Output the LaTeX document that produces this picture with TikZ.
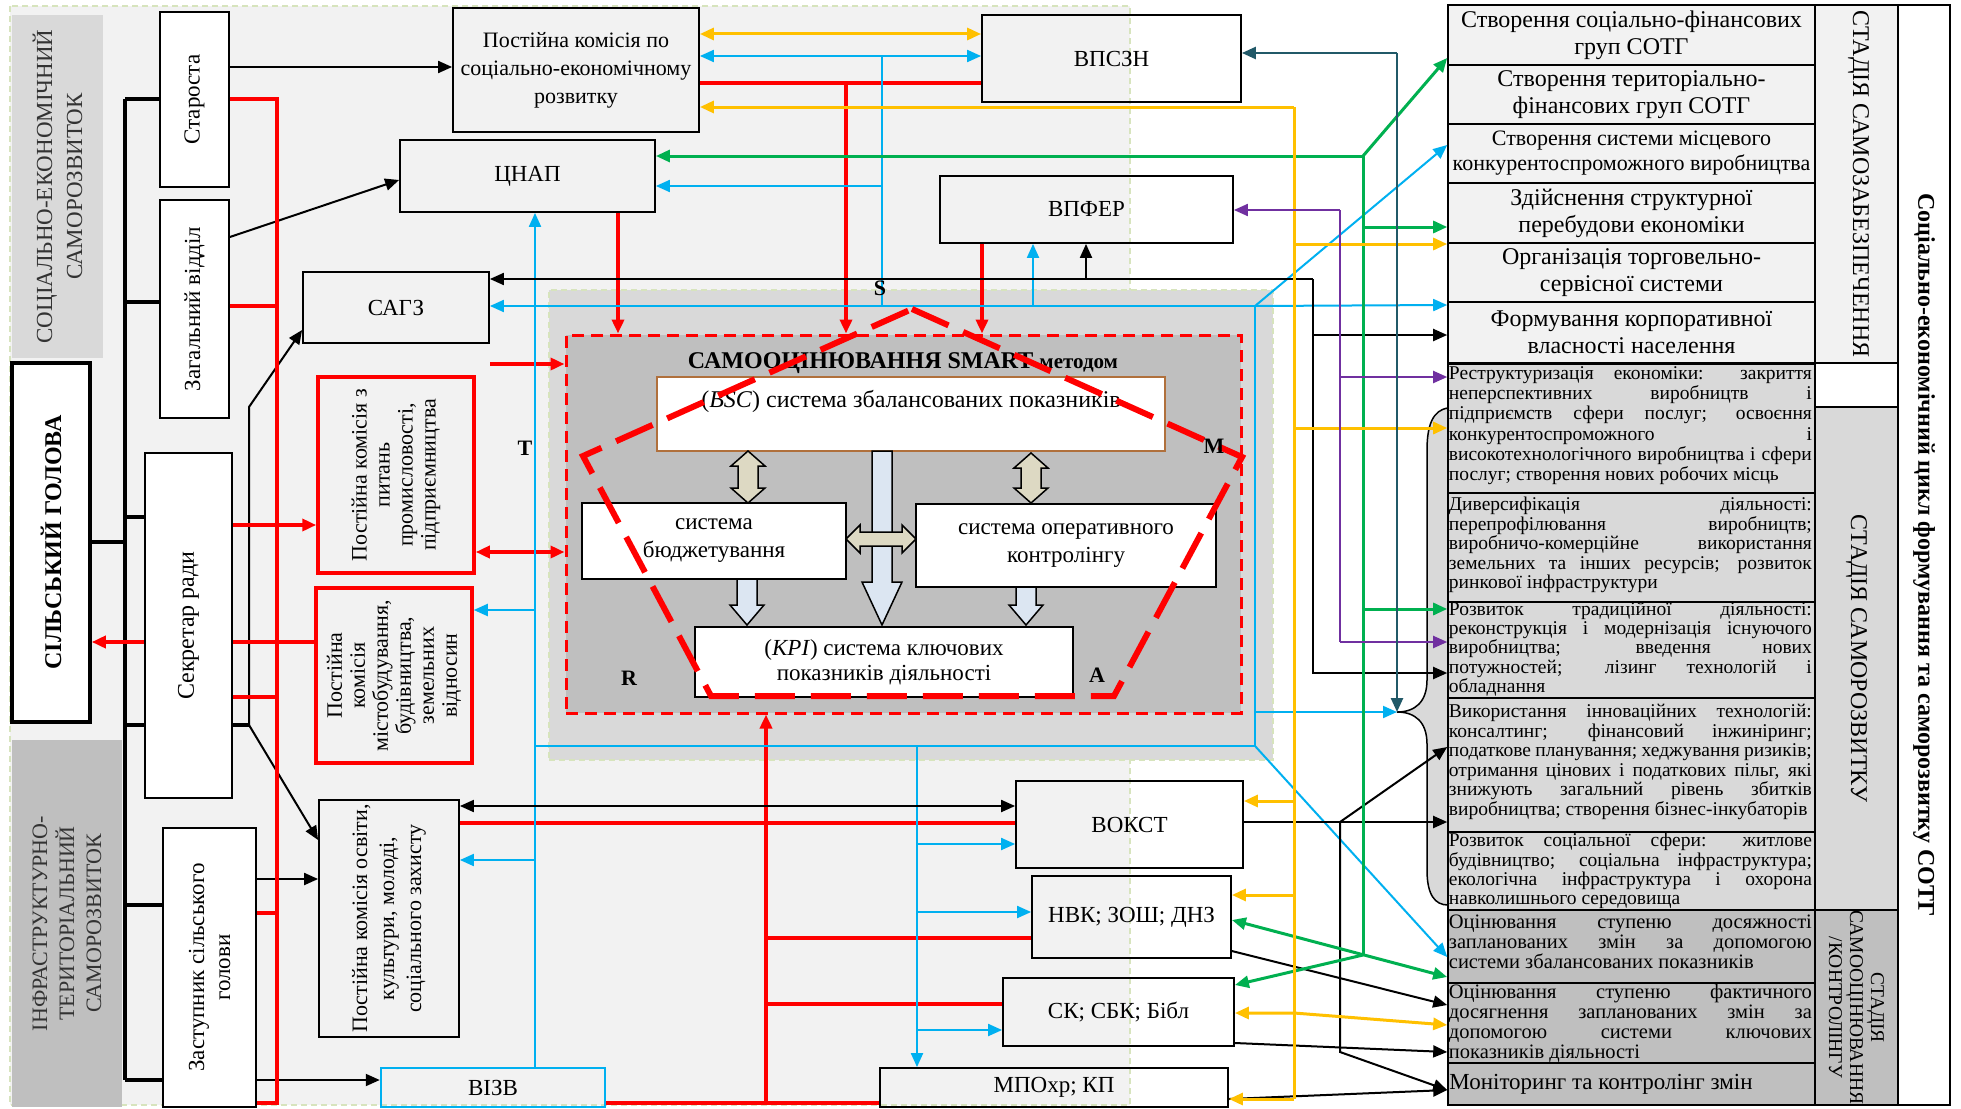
\documentclass[tikz,border=0pt]{standalone}
\usepackage{fontspec}
\setmainfont{Liberation Serif}
\usetikzlibrary{arrows.meta}
\definecolor{lgray}{HTML}{F2F2F2}
\definecolor{mgray}{HTML}{D9D9D9}
\definecolor{dgray}{HTML}{BFBFBF}
\definecolor{cred}{HTML}{FF0000}
\definecolor{cblue}{HTML}{00B0F0}
\definecolor{cgreen}{HTML}{00B050}
\definecolor{corange}{HTML}{FFC000}
\definecolor{cpurple}{HTML}{7030A0}
\definecolor{cteal}{HTML}{215968}
\definecolor{cbeige}{HTML}{DDD9C3}
\definecolor{clblue}{HTML}{DCE6F2}
\definecolor{dashgreen}{HTML}{D7E4BD}
\definecolor{cbrown}{HTML}{B0703C}
\definecolor{labtxt}{HTML}{333333}
\newcommand{\mybox}[7][]{%
  \pgfmathsetmacro{\myboxcx}{(#3+#5)/2}%
  \pgfmathsetmacro{\myboxcy}{(#4+#6)/2}%
  \pgfmathsetmacro{\myboxw}{#5-#3}%
  \pgfmathsetmacro{\myboxh}{#6-#4}%
  \node[minimum width=\myboxw pt, minimum height=\myboxh pt, #1] (#2) at (\myboxcx,\myboxcy) {#7};}
\newcommand{\jl}[1]{\makebox[363pt][s]{#1}}
\newcommand{\fsL}{\fontsize{23}{27}\selectfont}
\newcommand{\fsK}{\fontsize{22}{23}\selectfont}
\newcommand{\fsR}{\fontsize{24}{27}\selectfont}
\newcommand{\fsE}{\fontsize{20.5}{20}\selectfont}
\tikzset{
  bx/.style={draw=black, line width=1.8pt, inner sep=0pt},
  wbx/.style={bx, fill=white},
  rbx/.style={draw=cred, line width=3.5pt, inner sep=0pt},
  rowbox/.style={draw=black, line width=1.6pt, inner sep=0pt},
  myarr/.style={-{Triangle[length=14pt,width=12pt]}},
  mydarr/.style={{Triangle[length=14pt,width=12pt]}-{Triangle[length=14pt,width=12pt]}},
  blk/.style={black, line width=2pt},
  blkbus/.style={black, line width=3.5pt},
  redl/.style={cred, line width=3.5pt},
  bll/.style={cblue, line width=2pt},
  grl/.style={cgreen, line width=3pt},
  orl/.style={corange, line width=3pt},
  pul/.style={cpurple, line width=2pt},
  tel/.style={cteal, line width=2.5pt},
  barrow/.style={draw=black, line width=1.5pt},
  jtext/.style={align=left, inner sep=0pt, anchor=north west},
  etext/.style={font=\fsE, align=left, inner sep=0pt, anchor=north west},
  lettr/.style={font=\bfseries\fontsize{22}{22}\selectfont, inner sep=0pt},
}
\begin{document}
\begin{tikzpicture}[x=1pt,y=-1pt]
\useasboundingbox (0,0) rectangle (1961,1108);
\fill[white] (0,0) rectangle (1961,1108);
% backgrounds
\fill[lgray] (10,6) rectangle (1130,1105);
\draw[dashgreen, line width=1.5pt, dash pattern=on 6pt off 4pt] (10,6) rectangle (1130,1105);
\mybox[fill=mgray, draw=dashgreen, line width=1.5pt, dash pattern=on 6pt off 4pt]{smartbg}{549}{290}{1273}{760}{}
\mybox[fill=dgray, draw=cred, line width=3pt, dash pattern=on 12pt off 7pt]{smartred}{566}{335}{1241}{713}{}

% left labels
\mybox[fill=mgray]{LabSE}{12}{15}{103}{358}{}
\node[rotate=90, align=center, text=labtxt, font=\fontsize{23}{30}\selectfont] at (LabSE.center) {СОЦІАЛЬНО-ЕКОНОМІЧНИЙ\\САМОРОЗВИТОК};
\mybox[fill=dgray]{LabIT}{12}{740}{122}{1107}{}
\node[rotate=90, align=center, text=labtxt, font=\fontsize{22}{27}\selectfont] at (LabIT.center) {ІНФРАСТРУКТУРНО-\\ТЕРИТОРІАЛЬНИЙ\\САМОРОЗВИТОК};
\mybox[wbx, line width=3.5pt]{Golova}{12}{363}{90}{722}{}
\node[rotate=90, font=\bfseries\fontsize{24}{27}\selectfont] at (Golova.center) {СІЛЬСЬКИЙ ГОЛОВА};

% left boxes
\mybox[wbx]{Star}{160}{12}{229}{187}{}
\node[rotate=90, font=\fsL] at (Star.center) {Староста};
\mybox[wbx]{Zag}{160}{200}{229}{418}{}
\node[rotate=90, font=\fsL] at (Zag.center) {Загальний відділ};
\mybox[wbx]{Sekr}{145}{453}{232}{798}{}
\node[rotate=90, font=\fontsize{24}{27}\selectfont] at (Sekr.center) {Секретар ради};
\mybox[wbx]{Zast}{163}{828}{256}{1107}{}
\node[rotate=90, align=center, font=\fontsize{23}{26}\selectfont] at (Zast.center) {Заступник сільського\\голови};
\mybox[rbx]{PKprom}{318}{377}{474}{573}{}
\node[rotate=90, align=center, font=\fsK] at (PKprom.center) {Постійна комісія з\\питань\\промисловості,\\підприємництва};
\mybox[rbx]{PKmist}{316}{588}{472}{763}{}
\node[rotate=90, align=center, font=\fsK] at (PKmist.center) {Постійна\\комісія\\містобудування,\\будівництва,\\земельних\\відносин};
\mybox[bx]{PKosv}{319}{800}{459}{1037}{}
\node[rotate=90, align=center, font=\fontsize{22}{27}\selectfont] at (PKosv.center) {Постійна комісія освіти,\\культури, молоді,\\соціального захисту};

% middle boxes
\mybox[bx, align=center, font=\fontsize{22}{28}\selectfont]{KomSE}{453}{8}{699}{132}{Постійна комісія по\\соціально-економічному\\розвитку}
\mybox[bx, font=\fsL]{VPSZN}{982}{15}{1241}{102}{ВПСЗН}
\mybox[bx, font=\fsL]{CNAP}{400}{140}{655}{212}{ЦНАП}
\mybox[bx, font=\fsL]{VPFER}{940}{176}{1233}{243}{ВПФЕР}
\mybox[bx, font=\fsL]{SAGZ}{303}{272}{489}{343}{САГЗ}
\mybox[draw=cblue, line width=2.5pt, inner sep=0pt, font=\fsL]{VIZV}{381}{1068}{605}{1107}{ВІЗВ}
\mybox[bx, font=\fsL]{VOKST}{1016}{781}{1243}{868}{ВОКСТ}
\mybox[bx, font=\fsL]{NVK}{1032}{876}{1231}{958}{НВК; ЗОШ; ДНЗ}
\mybox[bx, font=\fsL]{SK}{1003}{978}{1234}{1046}{СК; СБК; Бібл}
\mybox[bx, font=\fsL]{MPO}{880}{1068}{1228}{1107}{МПОхр; КП}

% SMART inner
\node[inner sep=0pt] (smtitle) at (903,363) {\bfseries\fontsize{24}{26}\selectfont САМООЦІНЮВАННЯ SMART \fontsize{21}{26}\selectfont методом};
\mybox[wbx, draw=cbrown, line width=1.5pt]{BSC}{657}{377}{1165}{451}{}
\node[anchor=north, font=\fontsize{24}{26}\selectfont, inner sep=0pt] at ([yshift=-14pt]BSC.north) {(\textit{BSC}) система збалансованих показників};
\mybox[wbx, align=center, font=\fontsize{23}{28}\selectfont]{Budg}{582}{503}{846}{579}{система\\бюджетування}
\mybox[wbx, align=center, font=\fontsize{23}{28}\selectfont]{Oper}{916}{504}{1216}{587}{система оперативного\\контролінгу}
\mybox[wbx, align=center, font=\fontsize{23}{25}\selectfont]{KPI}{695}{627}{1073}{697}{(\textit{KPI}) система ключових\\показників діяльності}

% block arrows
\filldraw[barrow, fill=cbeige] (748,451) -- (765,466) -- (758,466) -- (758,488) -- (765,488) -- (748,503) -- (731,488) -- (738,488) -- (738,466) -- (731,466) -- cycle;
\filldraw[barrow, fill=cbeige] (1031,453) -- (1048,468) -- (1041,468) -- (1041,488) -- (1048,488) -- (1031,503) -- (1014,488) -- (1021,488) -- (1021,468) -- (1014,468) -- cycle;
\filldraw[barrow, fill=clblue] (872,451) -- (892,451) -- (892,582) -- (902,582) -- (882,625) -- (862,582) -- (872,582) -- cycle;
\filldraw[barrow, fill=cbeige] (846,539) -- (860,525) -- (860,532) -- (902,532) -- (902,525) -- (916,539) -- (902,553) -- (902,546) -- (860,546) -- (860,553) -- cycle;
\filldraw[barrow, fill=clblue] (737,579) -- (757,579) -- (757,605) -- (764,605) -- (747,625) -- (730,605) -- (737,605) -- cycle;
\filldraw[barrow, fill=clblue] (1016,587) -- (1036,587) -- (1036,605) -- (1043,605) -- (1026,625) -- (1009,605) -- (1016,605) -- cycle;

% brace
\fill[mgray] (1448,408) .. controls (1433,410) and (1427,425) .. (1427,450) -- (1427,680) .. controls (1427,702) and (1415,712) .. (1397,712) .. controls (1415,712) and (1427,722) .. (1427,744) -- (1427,870) .. controls (1427,895) and (1435,905) .. (1448,905) -- cycle;
\draw[black, line width=1.5pt] (1448,408) .. controls (1433,410) and (1427,425) .. (1427,450) -- (1427,680) .. controls (1427,702) and (1415,712) .. (1397,712) .. controls (1415,712) and (1427,722) .. (1427,744) -- (1427,870) .. controls (1427,895) and (1435,905) .. (1448,905);

% right rows
\mybox[rowbox, fill=lgray, align=center, font=\fsR]{R1}{1448}{5}{1815}{65}{Створення соціально-фінансових\\груп СОТГ}
\mybox[rowbox, fill=lgray, align=center, font=\fsR]{R2}{1448}{65}{1815}{124}{Створення територіально-\\фінансових груп СОТГ}
\mybox[rowbox, fill=lgray, align=center, font=\fontsize{22}{25}\selectfont]{R3}{1448}{124}{1815}{183}{Створення системи місцевого\\конкурентоспроможного виробництва}
\mybox[rowbox, fill=lgray, align=center, font=\fsR]{R4}{1448}{183}{1815}{243}{Здійснення структурної\\перебудови економіки}
\mybox[rowbox, fill=lgray, align=center, font=\fsR]{R5}{1448}{243}{1815}{302}{Організація торговельно-\\сервісної системи}
\mybox[rowbox, fill=lgray, align=center, font=\fsR]{R6}{1448}{302}{1815}{363}{Формування корпоративної\\власності населення}
\mybox[rowbox, fill=mgray]{R7}{1448}{364}{1815}{493}{}
\node[jtext, font=\fontsize{19.5}{20.3}\selectfont] at ([xshift=1.5pt,yshift=-3pt]R7.north west) {\jl{Реструктуризація економіки: закриття}\\\jl{неперспективних виробництв і}\\\jl{підприємств сфери послуг; освоєння}\\\jl{конкурентоспроможного і}\\\jl{високотехнологічного виробництва і сфери}\\послуг; створення нових робочих місць};
\mybox[rowbox, fill=mgray]{R8}{1448}{493}{1815}{602}{}
\node[jtext, font=\fontsize{19.5}{19.4}\selectfont] at ([xshift=1.5pt,yshift=-5pt]R8.north west) {\jl{Диверсифікація діяльності:}\\\jl{перепрофілювання виробництв;}\\\jl{виробничо-комерційне використання}\\\jl{земельних та інших ресурсів; розвиток}\\ринкової інфраструктури};
\mybox[rowbox, fill=mgray]{R9}{1448}{602}{1815}{698}{}
\node[jtext, font=\fontsize{19.5}{19.1}\selectfont] at ([xshift=1.5pt,yshift=-1pt]R9.north west) {\jl{Розвиток традиційної діяльності:}\\\jl{реконструкція і модернізація існуючого}\\\jl{виробництва; введення нових}\\\jl{потужностей; лізинг технологій і}\\обладнання};
\mybox[rowbox, fill=mgray]{R10}{1448}{698}{1815}{832}{}
\node[jtext, font=\fontsize{19.5}{19.5}\selectfont] at ([xshift=1.5pt,yshift=-7pt]R10.north west) {\jl{Використання інноваційних технологій:}\\\jl{консалтинг; фінансовий інжиніринг;}\\\jl{податкове планування; хеджування ризиків;}\\\jl{отримання цінових і податкових пільг, які}\\\jl{знижують загальний рівень збитків}\\виробництва; створення бізнес-інкубаторів};
\mybox[rowbox, fill=mgray]{R11}{1448}{832}{1815}{910}{}
\node[jtext, font=\fontsize{19.5}{19.2}\selectfont] at ([xshift=1.5pt,yshift=-2pt]R11.north west) {\jl{Розвиток соціальної сфери: житлове}\\\jl{будівництво; соціальна інфраструктура;}\\\jl{екологічна інфраструктура і охорона}\\навколишнього середовища};
\mybox[rowbox, fill=dgray]{R12}{1448}{910}{1815}{983}{}
\node[etext] at ([xshift=1.5pt,yshift=-6pt]R12.north west) {\jl{Оцінювання ступеню досяжності}\\\jl{запланованих змін за допомогою}\\системи збалансованих показників};
\mybox[rowbox, fill=dgray]{R13}{1448}{983}{1815}{1063}{}
\node[etext] at ([xshift=1.5pt,yshift=-2pt]R13.north west) {\jl{Оцінювання ступеню фактичного}\\\jl{досягнення запланованих змін за}\\\jl{допомогою системи ключових}\\показників діяльності};
\mybox[rowbox, fill=dgray]{R14}{1448}{1063}{1815}{1105}{}
\node[anchor=west, inner sep=0pt, font=\fontsize{23}{26}\selectfont] at ([xshift=2pt]R14.west) {Моніторинг та контролінг змін};

% stage columns
\mybox[rowbox, fill=lgray]{St1}{1815}{5}{1898}{363}{}
\node[rotate=-90, font=\fontsize{24}{26}\selectfont] at ([xshift=2pt]St1.center) {СТАДІЯ САМОЗАБЕЗПЕЧЕННЯ};
\mybox[rowbox, fill=white]{St0}{1815}{363}{1898}{407}{}
\mybox[rowbox, fill=mgray]{St2}{1815}{407}{1898}{910}{}
\node[rotate=-90, font=\fontsize{24}{26}\selectfont] at (St2.center) {СТАДІЯ САМОРОЗВИТКУ};
\mybox[rowbox, fill=dgray]{St3}{1815}{910}{1898}{1105}{}
\node[rotate=-90, align=center, font=\fontsize{19.5}{21}\selectfont] at (St3.center) {СТАДІЯ\\САМООЦІНЮВАННЯ\\/КОНТРОЛІНГУ};
\mybox[rowbox, fill=white]{Outer}{1898}{5}{1950}{1105}{}
\node[rotate=-90, font=\bfseries\fontsize{24}{26}\selectfont] at (Outer.center) {Соціально-економічний цикл формування та саморозвитку СОТГ};

% ---------- connectors ----------
% black bus
\coordinate (busT) at (125,99);
\coordinate (busB) at (125,1080);
\draw[blkbus] (busT) -- (busB);
\draw[blkbus] (busT) -- (Star.west |- busT);
\draw[blkbus] (125,302) -- (Zag.west |- 0,302);
\draw[blkbus] (125,517) -- (Sekr.west |- 0,517);
\draw[blkbus] (125,725) -- (Sekr.west |- 0,725);
\draw[blkbus] (125,905) -- (Zast.west |- 0,905);
\draw[blkbus] (busB) -- (Zast.west |- busB);
\draw[blkbus] (Golova.east |- 0,542) -- (125,542);
\coordinate (sj) at (249,725);
\coordinate (sj2) at (249,407);
\draw[blkbus] (Sekr.east |- sj) -- (sj);
\draw[blk, myarr] (sj) -- (sj2) -- (SAGZ.west |- 0,330);
\draw[blk, myarr] (sj) -- (PKosv.west |- 0,840);
\draw[blk, myarr] (Star.east |- 0,67) -- (KomSE.west |- 0,67);
\draw[blk, myarr] (Zag.east |- 0,237) -- (CNAP.west |- 0,180);
\draw[blk, myarr] (Zast.east |- 0,879) -- (PKosv.west |- 0,879);
\draw[blk, myarr] (Zast.east |- busB) -- (VIZV.west |- busB);

% red
\coordinate (rT) at (277,99);
\coordinate (rB) at (277,1103);
\draw[redl] (Star.east |- rT) -- (rT) -- (rB) -- (Zast.east |- rB);
\draw[redl] (Zag.east |- 0,306) -- (277,306);
\draw[redl] (Sekr.east |- 0,697) -- (277,697);
\draw[redl] (Zast.east |- 0,913) -- (277,913);
\draw[redl, myarr] (Sekr.east |- 0,525) -- (PKprom.west |- 0,525);
\draw[redl, myarr] (Sekr.west |- 0,642) -- (Golova.east |- 0,642);
\draw[redl] (Sekr.east |- 0,642) -- (PKmist.west |- 0,642);
\draw[redl, mydarr] (PKprom.east |- 0,552) -- (smartred.west |- 0,552);
\coordinate (rin) at (490,364);
\draw[redl, myarr] (rin) -- (smartred.west |- rin);
\draw[redl, myarr] (CNAP.south -| 618,0) -- (smartred.north -| 618,0);
\draw[redl] (KomSE.east |- 0,83) -- (VPSZN.west |- 0,83);
\draw[redl, myarr] (846,83) -- (smartred.north -| 846,0);
\draw[redl, myarr] (VPFER.south -| 982,0) -- (smartred.north -| 982,0);
\draw[redl] (PKosv.east |- 0,823) -- (VOKST.west |- 0,823);
\draw[redl, myarr] (766,1103) -- (smartred.south -| 766,0);
\draw[redl] (766,938) -- (NVK.west |- 0,938);
\draw[redl] (766,1004) -- (SK.west |- 0,1004);
\draw[redl] (VIZV.east |- 0,1103) -- (MPO.west |- 0,1103);

% blue
\draw[bll, myarr] (VIZV.north -| 535,0) -- (CNAP.south -| 535,0);
\draw[bll, myarr] (535,610) -- (PKmist.east |- 0,610);
\draw[bll, myarr] (535,860) -- (PKosv.east |- 0,860);
\coordinate (bTR) at (1255,306);
\coordinate (bBR) at (1255,746);
\coordinate (bt) at (1397,712);
\draw[bll, myarr] (bTR) -- (SAGZ.east |- bTR);
\draw[bll, myarr] (bTR) -- (R6.west |- 0,305);
\draw[bll, myarr] (bTR) -- (R3.west |- 0,145);
\draw[bll] (bTR) -- (bBR) -- (535,746);
\draw[bll, myarr] (1255,712) -- (bt);
\draw[bll, myarr] (bBR) -- (R12.west |- 0,957);
\draw[bll, myarr] (917,746) -- (MPO.north -| 917,0);
\draw[bll, myarr] (917,844) -- (VOKST.west |- 0,844);
\draw[bll, myarr] (917,912) -- (NVK.west |- 0,912);
\draw[bll, myarr] (917,1030) -- (SK.west |- 0,1030);
\draw[bll, myarr] (1033,306) -- (VPFER.south -| 1033,0);
\draw[bll] (882,56) -- (882,306);
\draw[bll, mydarr] (KomSE.east |- 0,56) -- (VPSZN.west |- 0,56);
\draw[bll, myarr] (882,186) -- (CNAP.east |- 0,186);

% black right side
\coordinate (bk1) at (1313,279);
\draw[blk, myarr] (bk1) -- (SAGZ.east |- bk1);
\draw[blk, myarr] (bk1) -- (1313,673) -- (R9.west |- 0,673);
\draw[blk, myarr] (1313,335) -- (R6.west |- 0,335);
\draw[blk, myarr] (1086,279) -- (VPFER.south -| 1086,0);
\draw[blk, mydarr] (PKosv.east |- 0,806) -- (VOKST.west |- 0,806);
\coordinate (vj) at (1340,822);
\draw[blk, myarr] (VOKST.east |- vj) -- (R10.west |- vj);
\draw[blk, myarr] (vj) -- (R10.west |- 0,747);
\draw[blk, myarr] (vj) -- (1340,1052) -- (R14.west |- 0,1090);
\draw[blk, myarr] (NVK.east |- 0,951) -- (R13.west |- 0,1005);
\draw[blk, myarr] (SK.east |- 0,1043) -- (R13.west |- 0,1052);
\draw[blk, myarr] (MPO.east |- 0,1099) -- (R14.west |- 0,1090);

% green
\coordinate (gT) at (1363,156);
\coordinate (gB) at (1363,955);
\draw[grl, myarr] (gT) -- (CNAP.east |- gT);
\draw[grl, myarr] (gT) -- (R1.west |- 0,58);
\draw[grl] (gT) -- (gB);
\draw[grl, myarr] (1363,227) -- (R4.west |- 0,227);
\draw[grl, myarr] (1363,609) -- (R9.west |- 0,609);
\draw[grl, mydarr] (NVK.east |- 0,920) -- (R12.west |- 0,977);
\draw[grl, myarr] (gB) -- (SK.east |- 0,985);

% orange
\coordinate (oT) at (1294,107);
\draw[orl, myarr] (oT) -- (KomSE.east |- oT);
\draw[orl] (oT) -- (1294,1099);
\draw[orl, mydarr] (KomSE.east |- 0,34) -- (VPSZN.west |- 0,34);
\draw[orl, myarr] (1294,244) -- (R4.west |- 0,244);
\draw[orl, myarr] (1294,428) -- (R7.west |- 0,428);
\draw[orl, myarr] (1294,801) -- (VOKST.east |- 0,801);
\draw[orl, myarr] (1294,895) -- (NVK.east |- 0,895);
\draw[orl, myarr] (1294,1099) -- (MPO.east |- 0,1099);
\draw[orl, mydarr] (SK.east |- 0,1013) -- (1294,1013) -- (R13.west |- 0,1025);

% purple
\coordinate (pT) at (1340,210);
\draw[pul, myarr] (pT) -- (VPFER.east |- pT);
\draw[pul] (pT) -- (1340,642);
\draw[pul, myarr] (1340,377) -- (R7.west |- 0,377);
\draw[pul, myarr] (1340,642) -- (R9.west |- 0,642);

% teal
\coordinate (tT) at (1397,53);
\draw[tel, myarr] (tT) -- (VPSZN.east |- tT);
\draw[tel, myarr] (tT) -- (bt);

% pentagon
\draw[cred, line width=6pt, dash pattern=on 40pt off 16pt] (912,309) -- (1242,457) -- (1114,696) -- (711,696) -- (583,456) -- cycle;

% letters
\node[lettr] at (880,288) {S};
\node[lettr] at (525,448) {T};
\node[lettr] at (1214,446) {M};
\node[lettr] at (629,678) {R};
\node[lettr] at (1097,675) {A};
\end{tikzpicture}
\end{document}
